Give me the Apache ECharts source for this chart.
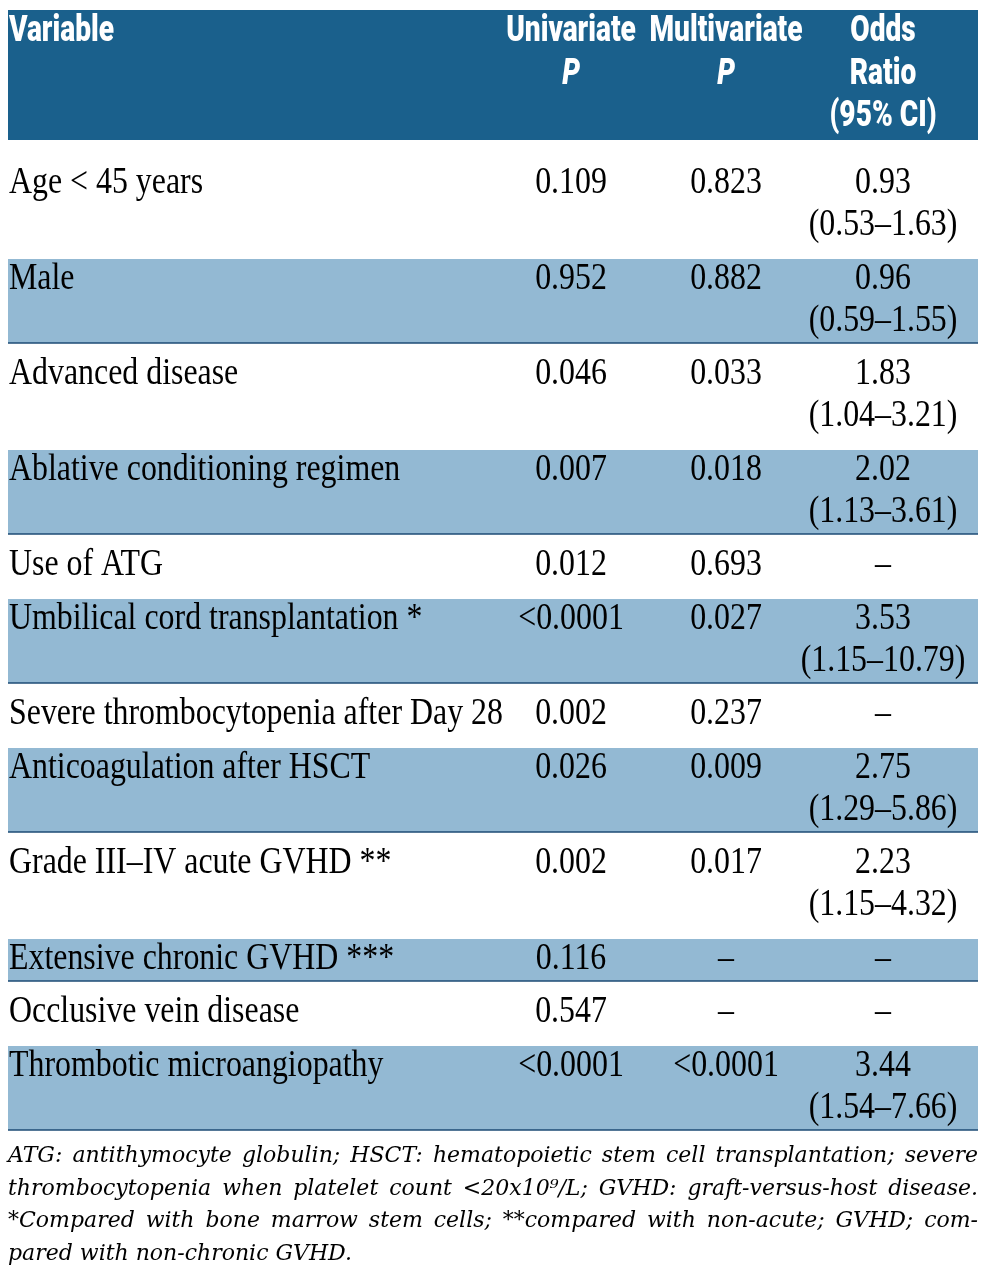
<!DOCTYPE html>
<html><head><meta charset="utf-8">
<script src="https://cdn.jsdelivr.net/npm/echarts@6/dist/echarts.min.js"></script>
<style>html,body{margin:0;padding:0;background:#fff}#chart{width:985px;height:1272px}</style>
</head><body><div id="chart"></div>
<script>
// ---------- DATA ----------
const headerLabels = [['Variable'], ['Univariate', 'P'], ['Multivariate', 'P'], ['Odds', 'Ratio', '(95% CI)']];
const variables = ['Age < 45 years', 'Male', 'Advanced disease', 'Ablative conditioning regimen', 'Use of ATG',
  'Umbilical cord transplantation *', 'Severe thrombocytopenia after Day 28', 'Anticoagulation after HSCT',
  'Grade III\u2013IV acute GVHD **', 'Extensive chronic GVHD ***', 'Occlusive vein disease', 'Thrombotic microangiopathy'];
const univariateP = ['0.109', '0.952', '0.046', '0.007', '0.012', '<0.0001', '0.002', '0.026', '0.002', '0.116', '0.547', '<0.0001'];
const multivariateP = ['0.823', '0.882', '0.033', '0.018', '0.693', '0.027', '0.237', '0.009', '0.017', '\u2013', '\u2013', '<0.0001'];
const oddsRatio = ['0.93', '0.96', '1.83', '2.02', '\u2013', '3.53', '\u2013', '2.75', '2.23', '\u2013', '\u2013', '3.44'];
const ci95 = ['(0.53\u20131.63)', '(0.59\u20131.55)', '(1.04\u20133.21)', '(1.13\u20133.61)', '', '(1.15\u201310.79)', '',
  '(1.29\u20135.86)', '(1.15\u20134.32)', '', '', '(1.54\u20137.66)'];
const footnoteLines = [
  'ATG: antithymocyte globulin; HSCT: hematopoietic stem cell transplantation; severe',
  'thrombocytopenia when platelet count <20x10\u2079/L; GVHD: graft-versus-host disease.',
  '*Compared with bone marrow stem cells; **compared with non-acute; GVHD; com-',
  'pared with non-chronic GVHD.'
];

// ---------- LAYOUT / STYLE ----------
const W = 985, H = 1272;
const T_LEFT = 8, T_RIGHT = 978, H_TOP = 10, H_BOTTOM = 140;
const COL_VAR = 9, COL_UNI = 571, COL_MULTI = 726, COL_OR = 883;
const LINE_H = 42, WHITE_PAD_TOP = 11, WHITE_PAD_BOT = 12, FIRST_EXTRA = 12, BASE_OFF = 31;
const HEAD_BASE = [43, 85.5, 128];
const HEADER_BG = '#1a608c', SHADE = '#93b9d3', RULE = '#1c4b74';
const BODY_FONT = 'Liberation Serif', BODY_FS = 38.5, BODY_SX = 0.828;
const HEAD_FONT = 'Roboto', HEAD_FS = 36, HEAD_SX = 0.78;
const FOOT_FONT = 'DejaVu Serif', FOOT_FS = 22, FOOT_SX = 1.0, FOOT_LH = 32.5;

const layout = [];
(function () {
  let top = H_BOTTOM;
  variables.forEach((v, i) => {
    const lines = ci95[i] ? 2 : 1;
    const shaded = i % 2 === 1;
    const extra = i === 0 ? FIRST_EXTRA : 0;
    const padT = shaded ? 0 : WHITE_PAD_TOP;
    const padB = shaded ? 0 : WHITE_PAD_BOT;
    const h = lines * LINE_H + padT + padB + extra;
    layout.push({ top, bottom: top + h, shaded, textTop: top + padT + extra });
    top += h;
  });
})();
const TABLE_END = layout[layout.length - 1].bottom;

function txt(api, str, xu, baseline, align, o) {
  const p = api.coord([xu, baseline - 0.3 * o.fs]);
  return {
    type: 'text', x: p[0], y: p[1], scaleX: o.sx,
    style: { text: str, fontFamily: o.family, fontSize: o.fs, fontWeight: o.weight || 'normal',
      fontStyle: o.style || 'normal', fill: o.fill, align: align, verticalAlign: 'middle' }
  };
}
const bodyO = { fs: BODY_FS, sx: BODY_SX, family: BODY_FONT, fill: '#000' };
const headO = { fs: HEAD_FS, sx: HEAD_SX, family: HEAD_FONT, weight: 900, fill: '#fff' };
const headPO = { fs: HEAD_FS, sx: HEAD_SX, family: HEAD_FONT, weight: 900, style: 'italic', fill: '#fff' };
const footO = { fs: FOOT_FS, sx: FOOT_SX, family: FOOT_FONT, style: 'italic', fill: '#000' };

function renderHeader(params, api) {
  const a = api.coord([T_LEFT, H_TOP]), b = api.coord([T_RIGHT, H_BOTTOM]);
  const ch = [{ type: 'rect', shape: { x: a[0], y: a[1], width: b[0] - a[0], height: b[1] - a[1] }, style: { fill: HEADER_BG } }];
  const xs = [COL_VAR, COL_UNI, COL_MULTI, COL_OR];
  headerLabels.forEach((lab, c) => {
    lab.forEach((s, k) => {
      ch.push(txt(api, s, xs[c], HEAD_BASE[k], c === 0 ? 'left' : 'center', s === 'P' ? headPO : headO));
    });
  });
  return { type: 'group', children: ch };
}

function renderRow(params, api) {
  const i = params.dataIndex, L = layout[i];
  const a = api.coord([T_LEFT, L.top]), b = api.coord([T_RIGHT, L.bottom]);
  const ch = [];
  if (L.shaded) {
    ch.push({ type: 'rect', shape: { x: a[0], y: a[1], width: b[0] - a[0], height: b[1] - a[1] }, style: { fill: SHADE } });
    ch.push({ type: 'line', shape: { x1: a[0], y1: b[1], x2: b[0], y2: b[1] }, style: { stroke: RULE, lineWidth: 1.5 } });
  }
  const b0 = L.textTop + BASE_OFF;
  ch.push(txt(api, variables[i], COL_VAR, b0, 'left', bodyO));
  ch.push(txt(api, univariateP[i], COL_UNI, b0, 'center', bodyO));
  ch.push(txt(api, multivariateP[i], COL_MULTI, b0, 'center', bodyO));
  ch.push(txt(api, oddsRatio[i], COL_OR, b0, 'center', bodyO));
  if (ci95[i]) ch.push(txt(api, ci95[i], COL_OR, b0 + LINE_H, 'center', bodyO));
  return { type: 'group', children: ch };
}

const mctx = document.createElement('canvas').getContext('2d');
function renderFoot(params, api) {
  mctx.font = `italic ${FOOT_FS}px "${FOOT_FONT}"`;
  const ch = [];
  const spaceW = mctx.measureText(' ').width * FOOT_SX;
  footnoteLines.forEach((line, k) => {
    const base = TABLE_END + 33 + k * FOOT_LH;
    const words = line.split(' ');
    const ws = words.map(w => mctx.measureText(w).width * FOOT_SX);
    const total = ws.reduce((s, v) => s + v, 0);
    const justify = k < footnoteLines.length - 1;
    const gap = justify ? (T_RIGHT - T_LEFT - total) / (words.length - 1) : spaceW;
    let x = T_LEFT;
    words.forEach((w, j) => {
      ch.push(txt(api, w, x, base, 'left', footO));
      x += ws[j] + gap;
    });
  });
  return { type: 'group', children: ch };
}

const chart = echarts.init(document.getElementById('chart'), null, { renderer: 'canvas' });
chart.setOption({
  animation: false,
  grid: { left: 0, right: 0, top: 0, bottom: 0 },
  xAxis: { type: 'value', min: 0, max: W, show: false },
  yAxis: { type: 'value', min: 0, max: H, inverse: true, show: false },
  series: [
    { type: 'custom', renderItem: renderHeader, data: [[0, 0]], silent: true },
    { type: 'custom', renderItem: renderRow, data: variables.map((v, i) => [i, 0]), silent: true },
    { type: 'custom', renderItem: renderFoot, data: [[0, 0]], silent: true }
  ]
});
</script></body></html>
